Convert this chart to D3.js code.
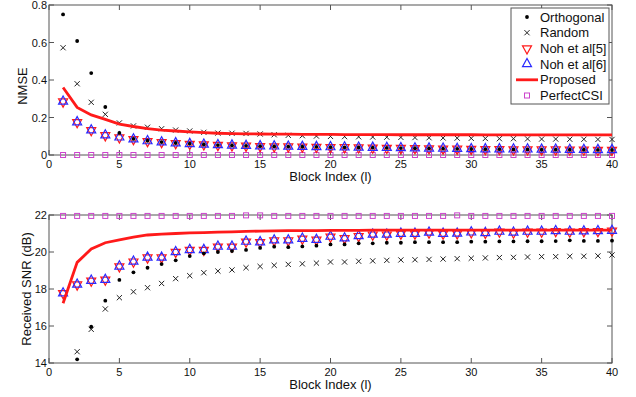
<!DOCTYPE html>
<html>
<head>
<meta charset="utf-8">
<script src="https://cdn.jsdelivr.net/npm/d3@7"></script>
<style>
  body { margin: 0; background: #fff; }
  svg { font-family: "Liberation Sans", Arial, sans-serif; }
</style>
</head>
<body>
<div id="chart"></div>
<script>
// Block index 1..40
const blocks = d3.range(1, 41);

// NMSE (top panel)
const orthTop = [0.750,0.608,0.437,0.256,0.118,0.086,0.076,0.069,0.064,0.060,0.056,0.053,0.051,0.049,0.047,0.046,0.045,0.044,0.043,0.042,0.041,0.040,0.039,0.038,0.037,0.036,0.035,0.034,0.033,0.032,0.031,0.031,0.030,0.030,0.029,0.029,0.028,0.028,0.027,0.027];
const randTop = [0.572,0.380,0.281,0.217,0.171,0.155,0.148,0.140,0.133,0.128,0.121,0.117,0.116,0.115,0.112,0.108,0.105,0.103,0.101,0.099,0.098,0.097,0.096,0.095,0.094,0.093,0.092,0.091,0.090,0.089,0.088,0.087,0.087,0.086,0.085,0.085,0.084,0.084,0.083,0.083];
const noh5Top = [0.285,0.175,0.132,0.105,0.094,0.084,0.074,0.068,0.063,0.059,0.056,0.053,0.051,0.049,0.047,0.046,0.045,0.044,0.043,0.042,0.041,0.040,0.039,0.038,0.037,0.036,0.035,0.034,0.033,0.032,0.031,0.031,0.030,0.030,0.029,0.029,0.028,0.028,0.027,0.027];
const noh6Top = [0.285,0.175,0.132,0.105,0.094,0.084,0.074,0.068,0.063,0.059,0.056,0.053,0.051,0.049,0.047,0.046,0.045,0.044,0.043,0.042,0.041,0.040,0.039,0.038,0.037,0.036,0.035,0.034,0.033,0.032,0.031,0.031,0.030,0.030,0.029,0.029,0.028,0.028,0.027,0.027];
const propTop = [0.360,0.254,0.214,0.190,0.165,0.152,0.141,0.133,0.128,0.123,0.119,0.116,0.114,0.113,0.112,0.111,0.111,0.110,0.110,0.110,0.109,0.109,0.109,0.109,0.108,0.108,0.108,0.108,0.108,0.108,0.107,0.107,0.107,0.107,0.107,0.107,0.107,0.107,0.107,0.107];
const perfTop = [0,0,0,0,0,0,0,0,0,0,0,0,0,0,0,0,0,0,0,0,0,0,0,0,0,0,0,0,0,0,0,0,0,0,0,0,0,0,0,0];

// Received SNR in dB (bottom panel); null = below the axis range
const orthBot = [null,14.20,15.96,17.37,18.49,18.90,19.15,19.35,19.55,19.78,19.93,20.00,20.05,20.11,20.22,20.29,20.26,20.30,20.34,20.41,20.41,20.47,20.47,20.50,20.50,20.53,20.53,20.53,20.53,20.56,20.56,20.57,20.57,20.58,20.58,20.59,20.63,20.60,20.60,20.61];
const randBot = [null,14.61,15.82,16.92,17.53,17.85,18.07,18.30,18.56,18.72,18.88,18.97,19.03,19.15,19.22,19.28,19.33,19.36,19.40,19.46,19.46,19.50,19.52,19.55,19.57,19.58,19.60,19.62,19.64,19.66,19.68,19.70,19.71,19.73,19.75,19.75,19.77,19.77,19.79,19.84];
const noh5Bot = [17.77,18.24,18.45,18.50,19.22,19.48,19.70,19.70,20.00,20.11,20.11,20.29,20.29,20.56,20.53,20.63,20.63,20.72,20.66,20.83,20.74,20.86,20.94,20.94,20.99,20.99,21.05,20.99,21.00,21.06,21.03,21.10,21.05,21.10,21.10,21.13,21.10,21.12,21.13,21.15];
const noh6Bot = [17.77,18.24,18.45,18.50,19.22,19.48,19.70,19.70,20.00,20.11,20.11,20.29,20.29,20.56,20.53,20.63,20.63,20.72,20.66,20.83,20.74,20.86,20.94,20.94,20.99,20.99,21.05,20.99,21.00,21.06,21.03,21.10,21.05,21.10,21.10,21.13,21.10,21.12,21.13,21.15];
const propBot = [17.23,19.44,20.16,20.50,20.65,20.80,20.92,20.97,21.00,21.03,21.05,21.07,21.09,21.11,21.13,21.14,21.15,21.16,21.16,21.17,21.17,21.17,21.18,21.18,21.18,21.18,21.18,21.18,21.18,21.18,21.18,21.18,21.18,21.18,21.18,21.18,21.18,21.18,21.18,21.18];
const perfBot = [21.95,21.95,21.95,21.95,21.95,21.95,21.95,21.95,21.95,21.95,21.95,21.95,21.95,21.98,21.98,21.95,21.95,21.95,21.95,21.95,21.95,21.95,21.95,21.95,21.95,21.95,21.95,21.95,21.98,21.95,21.95,21.95,21.95,21.95,21.95,21.95,21.95,21.95,21.95,21.95];

const xTicks = [0, 5, 10, 15, 20, 25, 30, 35, 40];
const topTicks = [0, 0.2, 0.4, 0.6, 0.8];
const botTicks = [14, 16, 18, 20, 22];
const legendNames = ['Orthogonal', 'Random', 'Noh et al[5]', 'Noh et al[6]', 'Proposed', 'PerfectCSI'];

const W = 636, H = 397;
const left = 49, right = 612;
const axisCol = '#555', textCol = '#111';
const cRed = '#ff1a1a', cBlue = '#2a2aff', cMag = '#cc44cc';

const svg = d3.select('#chart').append('svg')
  .attr('width', W).attr('height', H);

const x = d3.scaleLinear().domain([0, 40]).range([left, right]);

// marker painters
function marker(g, kind, cx, cy) {
  if (kind === 'dot') {
    g.append('circle').attr('cx', cx).attr('cy', cy).attr('r', 1.9).attr('fill', '#000');
  } else if (kind === 'x') {
    const s = 2.6;
    g.append('path').attr('d', `M${cx - s},${cy - s}L${cx + s},${cy + s}M${cx - s},${cy + s}L${cx + s},${cy - s}`)
      .attr('stroke', '#222').attr('stroke-width', 1).attr('fill', 'none');
  } else if (kind === 'down') {
    const w = 4.5, h = 3.6;
    g.append('path').attr('d', `M${cx - w},${cy - h + 1}L${cx + w},${cy - h + 1}L${cx},${cy + h + 2}Z`)
      .attr('stroke', cRed).attr('stroke-width', 1.2).attr('fill', 'none');
  } else if (kind === 'up') {
    const w = 4.5, h = 3.6;
    g.append('path').attr('d', `M${cx - w},${cy + h - 1}L${cx + w},${cy + h - 1}L${cx},${cy - h - 2}Z`)
      .attr('stroke', cBlue).attr('stroke-width', 1.2).attr('fill', 'none');
  } else if (kind === 'sq') {
    const s = 2.5;
    g.append('rect').attr('x', cx - s).attr('y', cy - s).attr('width', 2 * s).attr('height', 2 * s)
      .attr('stroke', cMag).attr('stroke-width', 1).attr('fill', 'none');
  }
}

function panel(cfg) {
  const y = d3.scaleLinear().domain(cfg.domain).range([cfg.bottom, cfg.top]);
  const g = svg.append('g');

  // box
  g.append('rect').attr('x', left).attr('y', cfg.top)
    .attr('width', right - left).attr('height', cfg.bottom - cfg.top)
    .attr('fill', '#fff').attr('stroke', axisCol).attr('stroke-width', 1);

  // inside ticks on all sides
  const tl = 5;
  xTicks.forEach(t => {
    g.append('line').attr('x1', x(t)).attr('x2', x(t)).attr('y1', cfg.bottom).attr('y2', cfg.bottom - tl).attr('stroke', axisCol);
    g.append('line').attr('x1', x(t)).attr('x2', x(t)).attr('y1', cfg.top).attr('y2', cfg.top + tl).attr('stroke', axisCol);
    g.append('text').attr('x', x(t)).attr('y', cfg.bottom + 12.5).attr('text-anchor', 'middle')
      .attr('font-size', 11).attr('fill', textCol).text(t);
  });
  cfg.ticks.forEach(t => {
    g.append('line').attr('x1', left).attr('x2', left + tl).attr('y1', y(t)).attr('y2', y(t)).attr('stroke', axisCol);
    g.append('line').attr('x1', right).attr('x2', right - tl).attr('y1', y(t)).attr('y2', y(t)).attr('stroke', axisCol);
    g.append('text').attr('x', left - 2).attr('y', y(t) + 4).attr('text-anchor', 'end')
      .attr('font-size', 11).attr('fill', textCol).text(t);
  });

  // axis titles
  g.append('text').attr('x', (left + right) / 2).attr('y', cfg.bottom + 25.5).attr('text-anchor', 'middle')
    .attr('font-size', 13).attr('fill', textCol).text('Block Index (l)');
  g.append('text').attr('transform', `translate(${cfg.ylx},${cfg.yly}) rotate(-90)`)
    .attr('text-anchor', 'middle').attr('font-size', 13).attr('fill', textCol).text(cfg.ylabel);

  // clip
  const clipId = 'clip' + cfg.top;
  svg.append('clipPath').attr('id', clipId).append('rect')
    .attr('x', left - 6).attr('y', cfg.top - 6).attr('width', right - left + 12).attr('height', cfg.bottom - cfg.top + 12);
  const plot = g.append('g').attr('clip-path', `url(#${clipId})`);

  const inRange = v => v !== null && v >= cfg.domain[0] - 0.01 && v <= cfg.domain[1] + 0.05;

  // markers
  const draw = (arr, kind) => arr.forEach((v, i) => { if (inRange(v)) marker(plot, kind, x(blocks[i]), y(v)); });
  draw(cfg.perf, 'sq');
  draw(cfg.rand, 'x');
  draw(cfg.noh5, 'down');
  draw(cfg.noh6, 'up');
  draw(cfg.orth, 'dot');

  // proposed line
  plot.append('path')
    .datum(cfg.prop)
    .attr('d', d3.line().x((d, i) => x(blocks[i])).y(d => y(d)))
    .attr('fill', 'none').attr('stroke', cRed).attr('stroke-width', 2.8);
}

panel({ domain: [0, 0.8], top: 5, bottom: 155, ticks: topTicks, ylabel: 'NMSE', ylx: 27, yly: 86,
  orth: orthTop, rand: randTop, noh5: noh5Top, noh6: noh6Top, prop: propTop, perf: perfTop });
panel({ domain: [14, 22], top: 215, bottom: 363, ticks: botTicks, ylabel: 'Received SNR (dB)', ylx: 31, yly: 289,
  orth: orthBot, rand: randBot, noh5: noh5Bot, noh6: noh6Bot, prop: propBot, perf: perfBot });

// legend
const lg = svg.append('g');
lg.append('rect').attr('x', 511).attr('y', 8).attr('width', 98).attr('height', 96)
  .attr('fill', '#fff').attr('stroke', axisCol);
const kinds = ['dot', 'x', 'down', 'up', 'line', 'sq'];
legendNames.forEach((name, i) => {
  const cy = 17 + i * 15.7;
  if (kinds[i] === 'line') {
    lg.append('line').attr('x1', 516).attr('x2', 538).attr('y1', cy).attr('y2', cy)
      .attr('stroke', cRed).attr('stroke-width', 2.8);
  } else {
    marker(lg, kinds[i], 527, cy);
  }
  lg.append('text').attr('x', 540).attr('y', cy + 4.5).attr('font-size', 13).attr('fill', textCol).text(name);
});
</script>
</body>
</html>
